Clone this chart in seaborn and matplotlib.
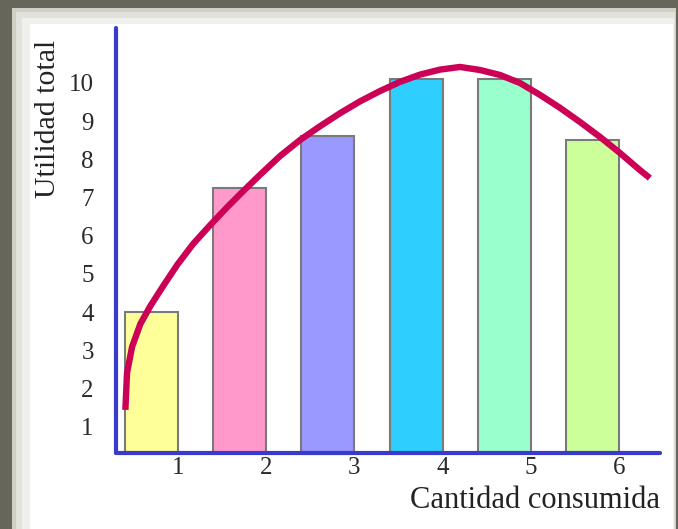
import matplotlib
matplotlib.use("Agg")
import matplotlib.pyplot as plt
import seaborn as sns
from matplotlib.patches import Rectangle

# data
cantidad = ["1", "2", "3", "4", "5", "6"]
utilidad = [4.0, 7.25, 8.6, 10.1, 10.1, 8.5]
bar_colors = ["#ffff99", "#ff99cc", "#9999ff", "#2ecfff", "#99ffcc", "#ccff99"]

# hand drawn curve over the bars (positions in bar units, 0 = first bar)
curve_x = [-0.294, -0.275, -0.218, -0.124, -0.011, 0.136, 0.294, 0.475, 0.667,
           0.860, 1.041, 1.233, 1.459, 1.686, 1.912, 2.138, 2.364, 2.590, 2.817,
           3.043, 3.269, 3.495, 3.722, 3.948, 4.174, 4.400, 4.627, 4.853, 5.079,
           5.305, 5.532, 5.645]
curve_y = [1.44, 2.41, 3.09, 3.69, 4.16, 4.69, 5.24, 5.79, 6.28,
           6.75, 7.17, 7.60, 8.09, 8.51, 8.87, 9.21, 9.52, 9.79, 10.03,
           10.22, 10.35, 10.42, 10.34, 10.21, 10.00, 9.69, 9.35, 8.98, 8.59,
           8.17, 7.72, 7.51]

y_ticks = list(range(1, 11))

sns.set_style("white")
plt.rcParams["font.family"] = ["Liberation Serif", "DejaVu Serif"]

W, H = 678, 529
fig = plt.figure(figsize=(W / 100, H / 100), dpi=100)
fig.patch.set_facecolor("#66665a")

# white panel with soft grey edge
def px_rect(x0, y0, x1, y1, color):
    fig.patches.append(Rectangle((x0 / W, 1 - y1 / H), (x1 - x0) / W, (y1 - y0) / H,
                                 transform=fig.transFigure, facecolor=color,
                                 edgecolor="none", zorder=-5))

px_rect(12, 8, 676, 529, "#cfcfc6")
px_rect(16, 12, 675, 529, "#e2e2dc")
px_rect(22, 18, 674, 529, "#efefeb")
px_rect(30, 24, 673, 529, "white")

ax = fig.add_axes([116 / W, 1 - 453 / H, (660 - 116) / W, (453 - 28) / H])
ax.patch.set_alpha(0)

sns.barplot(x=cantidad, y=utilidad, hue=cantidad, palette=bar_colors, legend=False,
            width=0.6, edgecolor="#7a7a7a", linewidth=1.5, saturation=1, ax=ax)
ax.plot(curve_x, curve_y, color="#cc0055", linewidth=4.6, solid_capstyle="butt",
        solid_joinstyle="round", zorder=5)

ax.set_xlim(-0.40, 5.76)
ax.set_ylim(0.31, 11.44)
ax.set_xticks([i + 0.3 for i in range(len(cantidad))])
ax.set_xticklabels(cantidad)
ax.set_yticks(y_ticks)
ax.set_yticklabels([str(t) for t in y_ticks])
ax.tick_params(axis="both", length=0, labelsize=18, colors="#2a2a2a")
ax.tick_params(axis="x", pad=3)
ax.tick_params(axis="y", pad=16)

for side in ["top", "right"]:
    ax.spines[side].set_visible(False)
for side in ["left", "bottom"]:
    ax.spines[side].set_color("#3a3acc")
    ax.spines[side].set_linewidth(3)
    ax.spines[side].set_capstyle("round")

ax.set_xlabel("")
ax.set_ylabel("")
fig.text(660 / W, 1 - 500 / H, "Cantidad consumida", ha="right", va="center",
         fontsize=22, color="#222222")
fig.text(48 / W, 1 - 40 / H, "Utilidad total", rotation=90, ha="center", va="top",
         fontsize=21.5, color="#222222")

fig.savefig("out.png", dpi=100, facecolor=fig.get_facecolor())
